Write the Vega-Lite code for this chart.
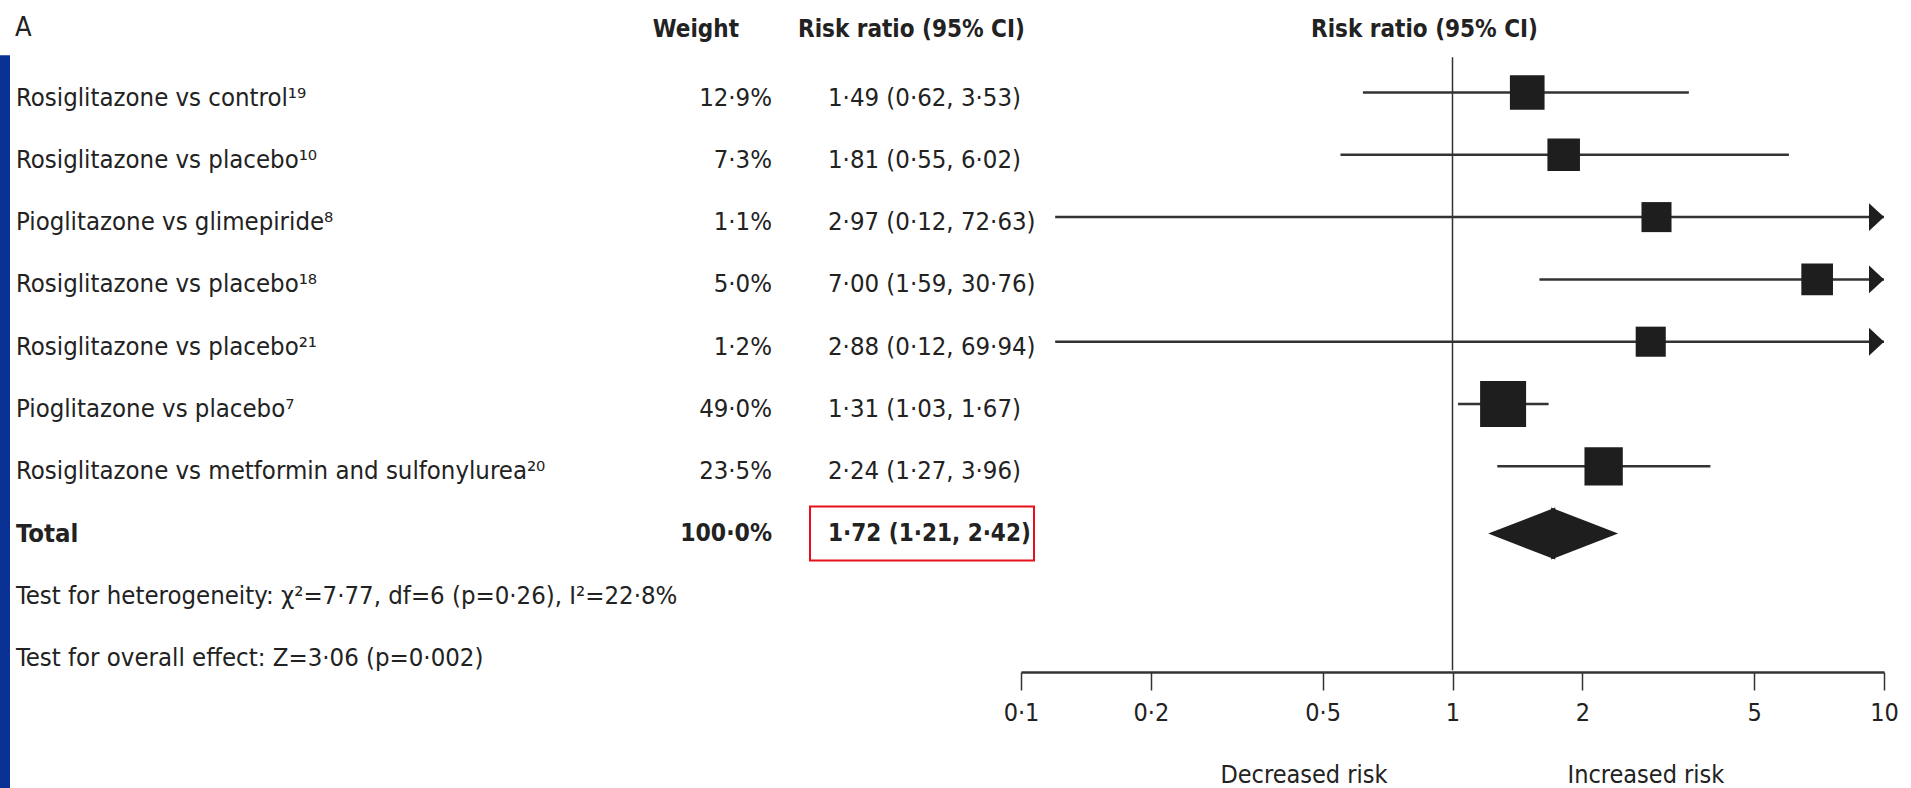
{
  "$schema": "https://vega.github.io/schema/vega-lite/v6.json",
  "width": 1911,
  "height": 672,
  "autosize": {"type": "none"},
  "padding": {"left": 0, "top": 0, "right": 0, "bottom": 116},
  "background": "white",
  "config": {
    "view": {"stroke": null},
    "text": {"font": "DejaVu Sans Condensed, Liberation Sans Narrow, Roboto", "fontSize": 25.5, "color": "#222222", "baseline": "middle"}
  },
  "datasets": {
    "rows": [
      {"line": 1, "kind": "study", "label": "Rosiglitazone vs control¹⁹", "weight": 12.9, "rr": 1.49, "lo": 0.62, "hi": 3.53},
      {"line": 2, "kind": "study", "label": "Rosiglitazone vs placebo¹⁰", "weight": 7.3, "rr": 1.81, "lo": 0.55, "hi": 6.02},
      {"line": 3, "kind": "study", "label": "Pioglitazone vs glimepiride⁸", "weight": 1.1, "rr": 2.97, "lo": 0.12, "hi": 72.63},
      {"line": 4, "kind": "study", "label": "Rosiglitazone vs placebo¹⁸", "weight": 5.0, "rr": 7.00, "lo": 1.59, "hi": 30.76},
      {"line": 5, "kind": "study", "label": "Rosiglitazone vs placebo²¹", "weight": 1.2, "rr": 2.88, "lo": 0.12, "hi": 69.94},
      {"line": 6, "kind": "study", "label": "Pioglitazone vs placebo⁷", "weight": 49.0, "rr": 1.31, "lo": 1.03, "hi": 1.67},
      {"line": 7, "kind": "study", "label": "Rosiglitazone vs metformin and sulfonylurea²⁰", "weight": 23.5, "rr": 2.24, "lo": 1.27, "hi": 3.96},
      {"line": 8, "kind": "total", "label": "Total", "weight": 100.0, "rr": 1.72, "lo": 1.21, "hi": 2.42},
      {"line": 9, "kind": "note", "label": "Test for heterogeneity: χ²=7·77, df=6 (p=0·26), I²=22·8%"},
      {"line": 10, "kind": "note", "label": "Test for overall effect: Z=3·06 (p=0·002)"}
    ],
    "single": [{}]
  },
  "resolve": {"scale": {"x": "independent"}, "axis": {"x": "independent"}},
  "layer": [
    {
      "layer": [
        {
          "data": {"name": "rows"},
          "transform": [{"filter": "datum.kind !== 'total'"}],
          "mark": {"type": "text", "align": "left"},
          "encoding": {
            "x": {"datum": "label", "type": "nominal", "scale": {"type": "point", "domain": ["label", "ci"], "range": [16, 828], "padding": 0}, "axis": null},
            "y": {"field": "line", "type": "ordinal", "scale": {"type": "point", "domain": [0, 1, 2, 3, 4, 5, 6, 7, 8, 9, 10, 11, 12], "range": [35.2, 782.8], "padding": 0}, "axis": null},
            "text": {"field": "label"}
          }
        },
        {
          "data": {"name": "rows"},
          "transform": [{"filter": "datum.kind === 'total'"}],
          "mark": {"type": "text", "align": "left", "fontWeight": "bold"},
          "encoding": {
            "x": {"datum": "label", "type": "nominal"},
            "y": {"field": "line", "type": "ordinal"},
            "text": {"field": "label"}
          }
        },
        {
          "data": {"name": "rows"},
          "transform": [
            {"filter": "datum.kind === 'study'"},
            {"calculate": "replace(format(datum.weight, '.1f'), '.', '·') + '%'", "as": "weightText"},
            {"calculate": "replace(format(datum.rr, '.2f'), '.', '·') + ' (' + replace(format(datum.lo, '.2f'), '.', '·') + ', ' + replace(format(datum.hi, '.2f'), '.', '·') + ')'", "as": "ciText"}
          ],
          "layer": [
            {
              "mark": {"type": "text", "align": "right", "dx": -56},
              "encoding": {
                "x": {"datum": "ci", "type": "nominal"},
                "y": {"field": "line", "type": "ordinal"},
                "text": {"field": "weightText"}
              }
            },
            {
              "mark": {"type": "text", "align": "left"},
              "encoding": {
                "x": {"datum": "ci", "type": "nominal"},
                "y": {"field": "line", "type": "ordinal"},
                "text": {"field": "ciText"}
              }
            }
          ]
        },
        {
          "data": {"name": "rows"},
          "transform": [
            {"filter": "datum.kind === 'total'"},
            {"calculate": "replace(format(datum.weight, '.1f'), '.', '·') + '%'", "as": "weightText"},
            {"calculate": "replace(format(datum.rr, '.2f'), '.', '·') + ' (' + replace(format(datum.lo, '.2f'), '.', '·') + ', ' + replace(format(datum.hi, '.2f'), '.', '·') + ')'", "as": "ciText"}
          ],
          "layer": [
            {
              "mark": {"type": "text", "align": "right", "dx": -56, "fontWeight": "bold", "fontSize": 24.5},
              "encoding": {
                "x": {"datum": "ci", "type": "nominal"},
                "y": {"field": "line", "type": "ordinal"},
                "text": {"field": "weightText"}
              }
            },
            {
              "mark": {"type": "text", "align": "left", "fontWeight": "bold", "fontSize": 24},
              "encoding": {
                "x": {"datum": "ci", "type": "nominal"},
                "y": {"field": "line", "type": "ordinal"},
                "text": {"field": "ciText"}
              }
            },
            {
              "mark": {"type": "point", "shape": "M-1,-0.241L1,-0.241L1,0.241L-1,0.241Z", "size": 50176, "filled": false, "stroke": "#e8101a", "strokeWidth": 2, "opacity": 1, "xOffset": 94},
              "encoding": {
                "x": {"datum": "ci", "type": "nominal"},
                "y": {"field": "line", "type": "ordinal"}
              }
            }
          ]
        },
        {
          "data": {"name": "single"},
          "layer": [
            {
              "mark": {"type": "text", "align": "left", "text": "A", "dx": -1, "dy": -7, "fontSize": 27},
              "encoding": {"x": {"datum": "label", "type": "nominal"}, "y": {"datum": 0, "type": "ordinal"}}
            },
            {
              "mark": {"type": "text", "align": "right", "text": "Weight", "fontWeight": "bold", "dx": -89, "dy": -5, "fontSize": 24},
              "encoding": {"x": {"datum": "ci", "type": "nominal"}, "y": {"datum": 0, "type": "ordinal"}}
            },
            {
              "mark": {"type": "text", "align": "left", "text": "Risk ratio (95% CI)", "fontWeight": "bold", "dx": -30, "dy": -5, "fontSize": 24},
              "encoding": {"x": {"datum": "ci", "type": "nominal"}, "y": {"datum": 0, "type": "ordinal"}}
            },
            {
              "mark": {"type": "rule", "color": "#0a3294", "strokeWidth": 10, "xOffset": -11, "yOffset": 20, "y2Offset": 10},
              "encoding": {"x": {"datum": "label", "type": "nominal"}, "y": {"datum": 0, "type": "ordinal"}, "y2": {"datum": 12}}
            }
          ]
        }
      ]
    },
    {
      "layer": [
        {
          "data": {"name": "single"},
          "layer": [
            {
              "mark": {"type": "rule", "color": "#333333", "strokeWidth": 1.5, "yOffset": 22, "y2Offset": 12},
              "encoding": {
                "x": {
                  "datum": 1, "type": "quantitative",
                  "scale": {"type": "log", "domain": [0.1, 10], "range": [1021, 1884], "clamp": true},
                  "axis": {
                    "orient": "bottom",
                    "values": [0.1, 0.2, 0.5, 1, 2, 5, 10], "format": "~g",
                    "labelExpr": "replace(datum.label, '.', '·')",
                    "title": null, "grid": false,
                    "domainColor": "#333333", "domainWidth": 2.5,
                    "tickColor": "#333333", "tickWidth": 1.5, "tickSize": 18,
                    "labelFont": "DejaVu Sans Condensed, Liberation Sans Narrow, Roboto",
                    "labelFontSize": 25, "labelColor": "#222222", "labelPadding": 10,
                    "labelFlush": false, "labelOverlap": false
                  }
                },
                "y": {"datum": 0, "type": "ordinal"},
                "y2": {"datum": 10}
              }
            },
            {
              "mark": {"type": "text", "align": "center", "text": "Risk ratio (95% CI)", "fontWeight": "bold", "dx": -28, "dy": -5, "fontSize": 24},
              "encoding": {"x": {"datum": 1, "type": "quantitative"}, "y": {"datum": 0, "type": "ordinal"}}
            },
            {
              "mark": {"type": "text", "align": "right", "text": "Decreased risk", "dx": -65, "dy": -8, "fontSize": 25},
              "encoding": {"x": {"datum": 1, "type": "quantitative"}, "y": {"datum": 12, "type": "ordinal"}}
            },
            {
              "mark": {"type": "text", "align": "left", "text": "Increased risk", "dx": 115, "dy": -8, "fontSize": 25},
              "encoding": {"x": {"datum": 1, "type": "quantitative"}, "y": {"datum": 12, "type": "ordinal"}}
            }
          ]
        },
        {
          "data": {"name": "rows"},
          "transform": [{"filter": "datum.kind === 'study'"}],
          "layer": [
            {
              "mark": {"type": "rule", "color": "#333333", "strokeWidth": 2.5, "yOffset": -5},
              "encoding": {
                "x": {"field": "lo", "type": "quantitative"},
                "x2": {"field": "hi"},
                "y": {"field": "line", "type": "ordinal"}
              }
            },
            {
              "mark": {"type": "point", "shape": "square", "filled": true, "color": "#1e1e1e", "opacity": 1, "yOffset": -5},
              "encoding": {
                "x": {"field": "rr", "type": "quantitative"},
                "y": {"field": "line", "type": "ordinal"},
                "size": {"field": "weight", "type": "quantitative", "scale": {"type": "linear", "domain": [1, 49], "range": [900, 2116]}, "legend": null}
              }
            },
            {
              "transform": [{"filter": "datum.hi > 10"}],
              "mark": {"type": "point", "shape": "M-1,-0.93L0,0L-1,0.93Z", "size": 900, "filled": true, "color": "#1e1e1e", "opacity": 1, "yOffset": -5},
              "encoding": {
                "x": {"field": "hi", "type": "quantitative"},
                "y": {"field": "line", "type": "ordinal"}
              }
            }
          ]
        },
        {
          "data": {"name": "rows"},
          "transform": [{"filter": "datum.kind === 'total'"}],
          "layer": [
            {
              "mark": {"type": "point", "shape": "M0,0L2,-0.776L2,0.776Z", "size": 4489, "filled": true, "color": "#1e1e1e", "opacity": 1},
              "encoding": {
                "x": {"field": "lo", "type": "quantitative"},
                "y": {"field": "line", "type": "ordinal"}
              }
            },
            {
              "mark": {"type": "point", "shape": "M0,0L-2,-0.776L-2,0.776Z", "size": 4489, "filled": true, "color": "#1e1e1e", "opacity": 1},
              "encoding": {
                "x": {"field": "hi", "type": "quantitative"},
                "y": {"field": "line", "type": "ordinal"}
              }
            }
          ]
        }
      ]
    }
  ]
}
